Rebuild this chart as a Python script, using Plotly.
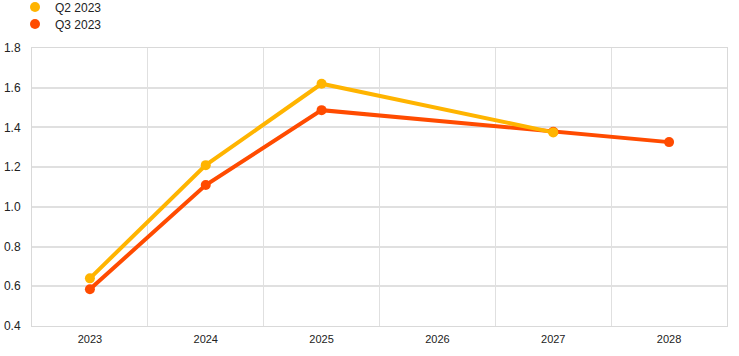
import plotly.graph_objects as go

years = ["2023", "2024", "2025", "2026", "2027", "2028"]
q2_2023 = [0.64, 1.21, 1.62, None, 1.375, None]
q3_2023 = [0.585, 1.11, 1.487, None, 1.378, 1.326]

series_names = ["Q2 2023", "Q3 2023"]
series_colors = ["#FFB400", "#FF4B00"]
legend_ids = ["legend", "legend2"]
series_values = [q2_2023, q3_2023]

fig = go.Figure()
# draw Q3 first so the Q2 line sits on top (as in the reference)
for name, vals, col in reversed(list(zip(series_names, series_values, series_colors))):
    fig.add_trace(go.Scatter(
        x=years, y=vals, name=name, mode="lines+markers",
        connectgaps=True, showlegend=False,
        line=dict(color=col, width=4),
        marker=dict(color=col, size=10),
    ))
# legend entries showing just the dot
for name, col, lg in zip(series_names, series_colors, legend_ids):
    fig.add_trace(go.Scatter(
        x=[None], y=[None], name=name, mode="markers",
        marker=dict(color=col, size=10), legend=lg, showlegend=True,
    ))

leg_common = dict(
    xref="container", yref="container", xanchor="left", yanchor="middle",
    itemwidth=30, font=dict(size=12, color="#222222"),
    bgcolor="rgba(0,0,0,0)", borderwidth=0,
)

fig.update_layout(
    width=739, height=356,
    margin=dict(l=32, r=12, t=48, b=30, autoexpand=False),
    paper_bgcolor="white", plot_bgcolor="white",
    font=dict(family="Arial, Liberation Sans, sans-serif", size=12, color="#222222"),
    legend=dict(x=15 / 739, y=1 - 7 / 356, **leg_common),
    legend2=dict(x=15 / 739, y=1 - 24 / 356, **leg_common),
    xaxis=dict(
        type="category", categoryorder="array", categoryarray=years,
        range=[-0.5, 5.5], tickson="boundaries",
        showgrid=True, gridcolor="#e0e0e0", gridwidth=1,
        showline=True, linecolor="#d9d9d9", linewidth=1, mirror=True,
        ticks="", tickfont=dict(size=11), ticklabelstandoff=3,
    ),
    yaxis=dict(
        range=[0.4, 1.8], dtick=0.2, tickformat=".1f",
        showgrid=True, gridcolor="#e0e0e0", gridwidth=2,
        showline=True, linecolor="#d9d9d9", linewidth=1, mirror=True,
        zeroline=False, ticks="", tickfont=dict(size=12), ticklabelstandoff=8,
    ),
)

fig.write_html("out.html", config={"displayModeBar": False},
               post_script="document.body.style.margin='0';")
